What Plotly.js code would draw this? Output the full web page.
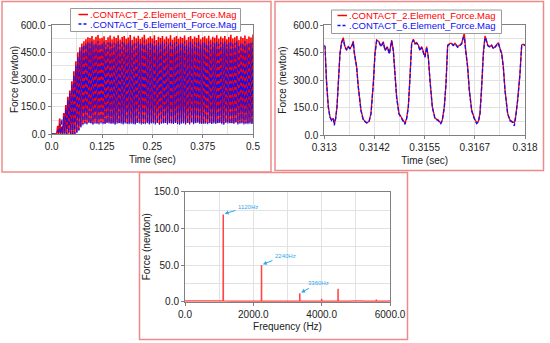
<!DOCTYPE html>
<html><head><meta charset="utf-8">
<script src="https://cdn.plot.ly/plotly-3.0.1.min.js"></script>
<style>html,body{margin:0;padding:0;background:#fff}#chart{width:550px;height:343px}</style>
</head><body><div id="chart"></div>
<script>
// ---------- names & labels ----------
const seriesNames = ['.CONTACT_2.Element_Force.Mag', '.CONTACT_6.Element_Force.Mag'];
const timeTickVals = [0, 0.125, 0.25, 0.375, 0.5];
const timeTickText = ['0.0', '0.125', '0.25', '0.375', '0.5'];
const zoomTickVals = [0.313, 0.31425, 0.3155, 0.31675, 0.318];
const zoomTickText = ['0.313', '0.3142', '0.3155', '0.3167', '0.318'];
const fftLabels = ['1120Hz', '2240Hz', '3360Hz'];

// ---------- panel 1: 0 - 0.5 s, peak (hi) and valley (lo) values every 5 ms ----------
const sampleStep = 0.005;
const c2Hi = [0,0,2,45,85,40,115,160,205,240,
  290,345,400,450,478,498,510,522,532,528,
  540,520,535,545,525,530,538,518,533,542,
  522,536,528,544,520,534,539,524,531,545,
  519,536,527,541,523,533,546,521,530,538,
  525,543,518,535,529,540,522,537,526,544,
  520,532,539,524,535,528,542,519,534,540,
  523,537,529,545,521,533,538,526,541,520,
  535,530,543,524,536,527,539,522,534,546,
  525,532,540,519,536,528,542,523,537,531,548];
const c2Lo = [0,0,0,0,1,0,2,0,1,0,
  0,1,8,22,42,55,62,58,64,60,
  57,63,61,59,65,60,58,62,64,59,
  61,57,63,60,62,58,64,61,59,63,
  60,57,62,65,59,61,60,63,58,62,
  64,59,61,57,63,60,62,59,64,58,
  61,63,60,57,62,65,59,61,58,63,
  60,62,64,59,61,57,63,60,62,58,
  64,61,59,63,60,57,62,65,59,61,
  60,63,58,62,64,59,61,60,63,58];
const c6Hi = [0,0,0,20,55,85,95,140,185,225,
  270,325,375,425,458,480,492,500,505,498,
  510,494,503,512,497,501,508,493,505,511,
  496,504,499,513,492,506,509,495,502,514,
  491,507,498,510,495,503,515,493,500,508,
  497,512,490,505,499,509,494,506,496,513,
  492,502,508,495,505,498,511,491,504,509,
  494,506,499,514,493,503,508,497,510,492,
  505,500,512,495,506,498,509,494,504,515,
  496,502,510,491,506,499,511,495,507,501,505];
const c6Lo = [0,0,0,0,0,1,0,0,2,0,
  0,0,4,18,36,48,55,52,57,54,
  51,56,55,53,58,54,52,56,57,53,
  55,51,57,54,56,52,58,55,53,57,
  54,51,56,58,53,55,54,57,52,56,
  58,53,55,51,57,54,56,53,58,52,
  55,57,54,51,56,58,53,55,52,57,
  54,56,58,53,55,51,57,54,56,52,
  58,55,53,57,54,51,56,58,53,55,
  54,57,52,56,58,53,55,54,57,52];

// ---------- panel 2: 0.313 - 0.318 s detail ----------
const zoomTime = [0.313000,0.313017,0.313058,0.313100,0.313141,0.313183,0.313224,0.313249,0.313282,0.313316,
  0.313349,0.313390,0.313432,0.313473,0.313515,0.313556,0.313598,0.313640,0.313681,0.313723,
  0.313748,0.313806,0.313847,0.313914,0.313972,0.314055,0.314113,0.314163,0.314221,0.314262,
  0.314304,0.314362,0.314412,0.314470,0.314512,0.314570,0.314620,0.314678,0.314719,0.314761,
  0.314802,0.314860,0.314927,0.314968,0.315010,0.315051,0.315093,0.315135,0.315176,0.315218,
  0.315259,0.315301,0.315342,0.315384,0.315425,0.315467,0.315508,0.315550,0.315591,0.315633,
  0.315691,0.315758,0.315841,0.315899,0.315940,0.315990,0.316032,0.316073,0.316131,0.316173,
  0.316214,0.316256,0.316322,0.316380,0.316422,0.316463,0.316488,0.316522,0.316571,0.316613,
  0.316671,0.316738,0.316796,0.316837,0.316879,0.316920,0.316962,0.317003,0.317028,0.317070,
  0.317128,0.317169,0.317211,0.317252,0.317294,0.317336,0.317377,0.317419,0.317460,0.317502,
  0.317568,0.317626,0.317684,0.317734,0.317767,0.317817,0.317875,0.317917,0.317958,0.318000];
const zoomC2 = [491,482,282,155,100,82,91,60,91,155,
  282,445,509,531,482,467,482,473,485,513,
  449,373,264,136,85,67,73,118,282,445,
  518,509,485,509,464,482,445,518,464,336,
  209,118,91,82,64,91,155,318,500,522,
  500,504,491,464,482,455,427,482,427,300,
  155,91,82,64,82,155,282,491,500,500,
  491,500,482,491,500,536,555,464,373,245,
  136,91,67,73,118,264,445,540,527,491,
  482,491,473,482,491,504,473,445,373,245,
  118,82,73,67,100,191,336,491,495,491];
const zoomC6 = [488,478,280,152,96,78,88,52,88,150,
  278,440,505,520,478,462,479,470,482,505,
  446,370,260,132,80,66,71,115,278,440,
  514,505,482,505,460,478,442,512,460,332,
  205,115,88,78,58,88,150,312,496,518,
  497,500,487,460,478,448,424,478,424,296,
  152,88,78,60,80,150,278,487,497,496,
  488,497,478,488,497,530,535,460,370,242,
  132,88,62,70,115,260,440,530,522,487,
  478,488,470,478,488,500,470,442,370,242,
  115,78,70,50,96,188,332,487,492,488];

// ---------- panel 3: spectrum ----------
const freqHz = [0,200,500,800,1000,1100,1116,1118,1120,1122,1400,1800,2000,2236,2238,2240,2242,2600,3000,
  3356,3358,3360,3362,3700,3996,3998,4000,4002,4300,4476,4478,4480,4482,4800,5036,5038,5040,5042,5300,
  5596,5598,5600,5602,5900,6000];
const fftForce = [0.8,0.7,0.8,0.7,0.8,0.8,0.8,59,119,0.8,0.7,0.8,0.7,0.8,6,50,0.8,0.7,0.8,
  0.8,2,11.5,0.8,0.7,0.8,1,4,0.8,0.7,0.8,3,17.5,0.8,0.7,0.8,1,1.8,0.8,0.7,
  0.8,1,3,0.8,0.7,0.8];
const fftPeakHz = [1120, 2240, 3360];
const fftPeakVal = [119, 50, 11.5];

// ---------- build ----------
function zigzag(hi, lo) {
  const x = [], y = [];
  for (let i = 0; i < hi.length; i++) {
    x.push(i * sampleStep); y.push(hi[i]);
    if (i < lo.length) { x.push(i * sampleStep + sampleStep / 2); y.push(lo[i]); }
  }
  return {x, y};
}
const z2 = zigzag(c2Hi, c2Lo), z6 = zigzag(c6Hi, c6Lo);
const RED = '#ff0000', BLUE = '#1010f0', FFTRED = '#ff4545', ANN = '#2ea8f0';
const BLUEDASH = '4px,2px';

const traces = [
  {x: z2.x, y: z2.y, xaxis: 'x', yaxis: 'y', mode: 'lines', name: seriesNames[0], showlegend: false,
   line: {color: RED, width: 1.6}},
  {x: z6.x, y: z6.y, xaxis: 'x', yaxis: 'y', mode: 'lines', name: seriesNames[1], showlegend: false,
   line: {color: BLUE, width: 1.1, dash: '4px,3px'}},
  {x: zoomTime.slice(0, zoomC2.length), y: zoomC2, xaxis: 'x2', yaxis: 'y2', mode: 'lines', name: seriesNames[0], showlegend: false,
   line: {color: RED, width: 1.3}},
  {x: zoomTime.slice(0, zoomC6.length), y: zoomC6, xaxis: 'x2', yaxis: 'y2', mode: 'lines', name: seriesNames[1], showlegend: false,
   line: {color: BLUE, width: 1.3, dash: BLUEDASH}},
  {x: freqHz.slice(0, fftForce.length), y: fftForce, xaxis: 'x3', yaxis: 'y3', mode: 'lines', name: 'FFT', showlegend: false,
   line: {color: FFTRED, width: 1.5}}
];

const W = 550, H = 343;
const px = v => v / W, py = v => 1 - v / H;
const FONT = '"Liberation Sans", Arial, Helvetica, sans-serif';
const GRID = '#e2e2e2';
function axis(extra) {
  return Object.assign({
    showline: true, linecolor: '#808080', linewidth: 1, mirror: true,
    ticks: 'outside', ticklen: 3, tickcolor: '#808080',
    showgrid: true, gridcolor: GRID, gridwidth: 1, zeroline: false,
    tickfont: {family: FONT, size: 10, color: '#222'}
  }, extra);
}
const xTitle = t => ({text: t, font: {family: FONT, size: 10, color: '#222'}, standoff: 4});
const yTitle = (t, s) => ({text: t, font: {family: FONT, size: 10, color: '#222'}, standoff: s});

const shapes = [];
const annotations = [];
function panelBorder(x0, y0, x1, y1) {
  shapes.push({type: 'rect', xref: 'paper', yref: 'paper', x0: px(x0), x1: px(x1), y0: py(y1), y1: py(y0),
    line: {color: '#f08a8a', width: 1.5}, fillcolor: 'rgba(0,0,0,0)', layer: 'above'});
}
panelBorder(2, 1.5, 271, 172);
panelBorder(275, 1.5, 543.5, 170.5);
panelBorder(139.5, 172.5, 407.5, 339.5);

function legendBox(left, top, right, bottom, lineX0, lineX1, textX, row1, row2) {
  shapes.push({type: 'rect', xref: 'paper', yref: 'paper', x0: px(left), x1: px(right), y0: py(bottom), y1: py(top),
    line: {color: '#9a9a9a', width: 1}, fillcolor: '#ffffff', layer: 'above'});
  shapes.push({type: 'line', xref: 'paper', yref: 'paper', x0: px(lineX0), x1: px(lineX1), y0: py(row1), y1: py(row1),
    line: {color: RED, width: 1.5}, layer: 'above'});
  shapes.push({type: 'line', xref: 'paper', yref: 'paper', x0: px(lineX0), x1: px(lineX1), y0: py(row2), y1: py(row2),
    line: {color: BLUE, width: 1.5, dash: '3px,2px'}, layer: 'above'});
  [[seriesNames[0], row1, RED], [seriesNames[1], row2, BLUE]].forEach(([t, r, c]) => {
    annotations.push({xref: 'paper', yref: 'paper', x: px(textX), y: py(r), xanchor: 'left', yanchor: 'middle',
      text: t, showarrow: false, borderpad: 0, font: {family: FONT, size: 9.5, color: c}});
  });
}
legendBox(70.5, 8.5, 240.5, 31.5, 78.5, 88, 88.5, 14.5, 24);
legendBox(331.5, 10, 501.5, 33.5, 337.5, 347, 347.5, 15.5, 25.5);

const fftTextHz = [1844, 2927, 3893];
const fftTextVal = [129.5, 62.7, 25];
for (let i = 0; i < fftLabels.length; i++) {
  annotations.push({xref: 'x3', yref: 'y3', axref: 'x3', ayref: 'y3',
    x: fftPeakHz[i] + 40, y: fftPeakVal[i] + 1, ax: fftTextHz[i], ay: fftTextVal[i],
    text: fftLabels[i], showarrow: true, arrowhead: 2, arrowsize: 0.8, arrowwidth: 1,
    arrowcolor: ANN, standoff: 0, startstandoff: 1,
    font: {family: FONT, size: 6, color: ANN}});
}

const layout = {
  width: W, height: H, margin: {l: 0, r: 0, t: 0, b: 0},
  paper_bgcolor: '#ffffff', plot_bgcolor: '#ffffff',
  font: {family: FONT, size: 10, color: '#222'},
  showlegend: false,
  xaxis: axis({domain: [px(51.7), px(253)], anchor: 'y', range: [0, 0.5],
    tickmode: 'array', tickvals: timeTickVals, ticktext: timeTickText,
    minor: {tickmode: 'linear', tick0: 0, dtick: 0.0625, showgrid: true, gridcolor: GRID},
    title: xTitle('Time (sec)')}),
  yaxis: axis({domain: [py(134), py(25)], anchor: 'x', range: [0, 600], dtick: 150, tickformat: '.1f',
    minor: {dtick: 75, showgrid: true, gridcolor: GRID},
    title: yTitle('Force (newton)', 0)}),
  xaxis2: axis({domain: [px(324.3), px(525)], anchor: 'y2', range: [0.313, 0.318],
    tickmode: 'array', tickvals: zoomTickVals, ticktext: zoomTickText,
    minor: {tickmode: 'linear', tick0: 0.313, dtick: 0.000625, showgrid: true, gridcolor: GRID},
    title: xTitle('Time (sec)')}),
  yaxis2: axis({domain: [py(135), py(25)], anchor: 'x2', range: [0, 600], dtick: 150, tickformat: '.1f',
    minor: {dtick: 75, showgrid: true, gridcolor: GRID},
    title: yTitle('Force (newton)', 4)}),
  xaxis3: axis({domain: [px(185), px(390)], anchor: 'y3', range: [0, 6000], dtick: 2000, tickformat: '.1f',
    minor: {dtick: 1000, showgrid: true, gridcolor: GRID},
    title: xTitle('Frequency (Hz)')}),
  yaxis3: axis({domain: [py(301.7), py(191.7)], anchor: 'x3', range: [0, 150], dtick: 50, tickformat: '.1f',
    minor: {dtick: 25, showgrid: true, gridcolor: GRID},
    title: yTitle('Force (newton)', 1)}),
  shapes: shapes,
  annotations: annotations
};

Plotly.newPlot('chart', traces, layout, {staticPlot: true, displayModeBar: false});
</script>
</body></html>
